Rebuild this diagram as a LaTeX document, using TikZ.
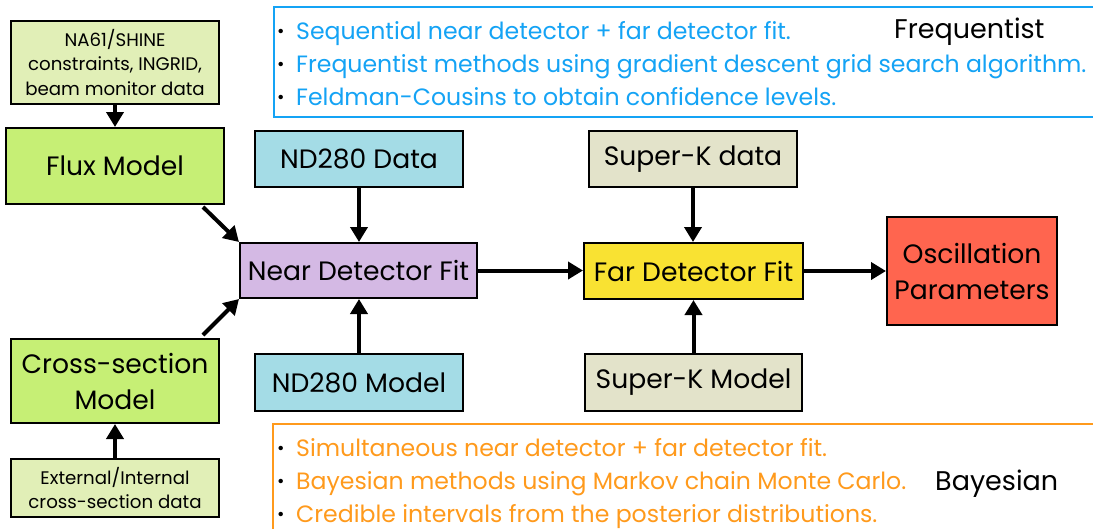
\documentclass[tikz,border=0pt]{standalone}
\usepackage{fontspec}
\setmainfont{Poppins}
\usetikzlibrary{arrows.meta}
\definecolor{fblue}{HTML}{14A3F5}
\definecolor{borange}{HTML}{FF9A1C}
\definecolor{palegreen}{HTML}{E1EFB7}
\definecolor{limegreen}{HTML}{C6EF75}
\definecolor{ndblue}{HTML}{A4DCE6}
\definecolor{lavender}{HTML}{D4B9E4}
\definecolor{beige}{HTML}{E3E3CA}
\definecolor{fdyellow}{HTML}{F9E232}
\definecolor{oscred}{HTML}{FF654F}
\begin{document}
\begin{tikzpicture}[x=1pt,y=-1pt,
  box/.style={draw=black, line width=2pt, inner sep=0pt, align=center,
    font=\fontsize{26.6}{36}\selectfont},
  smallbox/.style={box, font=\fontsize{18.2}{24.5}\selectfont},
  arr/.style={line width=4pt, -{Triangle[length=15pt,width=17pt]}},
  btxt/.style={anchor=base west, inner sep=0pt, font=\fontsize{23.6}{27}\selectfont},
  lbl/.style={anchor=base west, inner sep=0pt, font=\fontsize{27}{30}\selectfont},
  bul/.style={anchor=base west, inner sep=0pt, font=\fontsize{18}{18}\selectfont}]
\useasboundingbox (0,0) rectangle (1093,528);
\fill[white] (0,0) rectangle (1093,528);

% frequentist panel
\draw[fblue, line width=2pt] (274,7) rectangle (1110,117);
\node[bul] (fb1) at (277,37) {•};
\node[bul] (fb2) at (277,70) {•};
\node[bul] (fb3) at (277,103) {•};
\node[btxt, text=fblue] (f1) at (296,39) {Sequential near detector + far detector fit.};
\node[btxt, text=fblue] (f2) at (296,72) {Frequentist methods using gradient descent grid search algorithm.};
\node[btxt, text=fblue] (f3) at (296,105) {Feldman-Cousins to obtain confidence levels.};
\node[lbl] (freq) at (894,38) {Frequentist};

% bayesian panel
\draw[borange, line width=2pt] (273,424) rectangle (1110,545);
\node[bul] (bb1) at (277,454) {•};
\node[bul] (bb2) at (277,487) {•};
\node[bul] (bb3) at (277,520) {•};
\node[btxt, text=borange] (b1) at (296,456) {Simultaneous near detector + far detector fit.};
\node[btxt, text=borange] (b2) at (296,489) {Bayesian methods using Markov chain Monte Carlo.};
\node[btxt, text=borange] (b3) at (296,522) {Credible intervals from the posterior distributions.};
\node[lbl] (bayes) at (935,490) {Bayesian};

% boxes
\node[smallbox, fill=palegreen, minimum width=208pt, minimum height=83pt] (na61) at (115,62.5)
  {NA61/SHINE\\constraints, INGRID,\\beam monitor data};
\node[box, fill=limegreen, minimum width=218pt, minimum height=76pt] (flux) at (115,166) {Flux Model};
\node[box, fill=limegreen, minimum width=208pt, minimum height=84pt] (xsec) at (115,381) {Cross-section\\Model};
\node[smallbox, fill=palegreen, minimum width=208pt, minimum height=58pt] (ext) at (115,488)
  {External/Internal\\cross-section data};
\node[box, fill=ndblue, minimum width=208pt, minimum height=56pt] (nddata) at (359,159) {ND280 Data};
\node[box, fill=lavender, minimum width=237pt, minimum height=55pt] (near) at (358.5,270.5) {Near Detector Fit};
\node[box, fill=ndblue, minimum width=208pt, minimum height=57pt] (ndmodel) at (359,382.5) {ND280 Model};
\node[box, fill=beige, minimum width=208pt, minimum height=56pt] (skdata) at (693,159) {Super-K data};
\node[box, fill=fdyellow, minimum width=219pt, minimum height=56pt] (far) at (693.5,271) {Far Detector Fit};
\node[box, fill=beige, minimum width=217pt, minimum height=57pt] (skmodel) at (693.5,382.5) {Super-K Model};
\node[box, fill=oscred, minimum width=170pt, minimum height=108pt] (osc) at (972,271) {Oscillation\\Parameters};

% connectors
\draw[arr] (na61.south) -- (flux.north);
\draw[arr] (ext.north) -- (xsec.south);
\draw[arr] ([xshift=-22pt,yshift=-2pt]flux.south east) -- (near.north west);
\draw[arr] ([xshift=-17pt,yshift=3pt]xsec.north east) -- (near.south west);
\draw[arr] (nddata.south) -- (nddata.south |- near.north);
\draw[arr] (ndmodel.north) -- (ndmodel.north |- near.south);
\draw[arr] (near.east) -- (far.west |- near.east);
\draw[arr] (skdata.south) -- (skdata.south |- far.north);
\draw[arr] (skmodel.north) -- (skmodel.north |- far.south);
\draw[arr] (far.east) -- (osc.west |- far.east);
\end{tikzpicture}
\end{document}
